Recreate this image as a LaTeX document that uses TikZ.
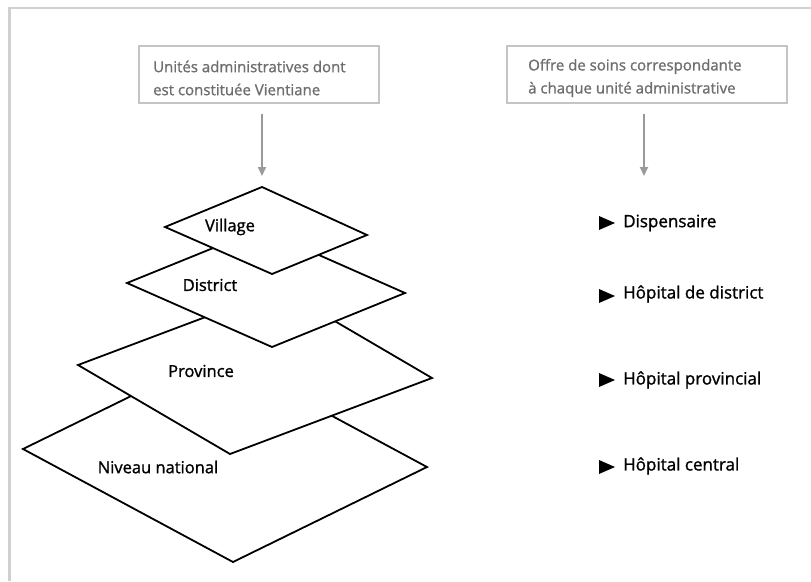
\documentclass[tikz,border=0pt]{standalone}
\usepackage{fontspec}
\setmainfont{Open Sans}
\newfontfamily\heavyfont{Open Sans}[RawFeature={embolden=1.2}]
\usetikzlibrary{calc,arrows.meta}
\definecolor{framegray}{HTML}{D0D0D0}
\definecolor{boxgray}{HTML}{C4C4C4}
\definecolor{txtgray}{HTML}{6E6E6E}
\definecolor{arrgray}{HTML}{9A9A9A}
\tikzset{
  x=1pt,y=-1pt,
  headbox/.style={draw=boxgray,line width=1.6pt,align=left,inner sep=0pt,
    minimum height=57pt},
  headtext/.style={text=txtgray,align=left,inner sep=0pt,font=\heavyfont\fontsize{15}{23}\selectfont},
  headarrow/.style={draw=arrgray,line width=1.8pt,-{Triangle[length=9pt,width=8pt]}},
  plane/.style={draw=black,fill=white,line width=1.8pt,line join=miter},
  planelabel/.style={font=\heavyfont\fontsize{16.5}{19}\selectfont,inner sep=0pt},
  carelabel/.style={font=\heavyfont\fontsize{17}{19}\selectfont,inner sep=0pt,anchor=west},
  bullet/.style={fill=black}
}
\begin{document}
\begin{tikzpicture}
\useasboundingbox (0,0) rectangle (811,581);
% frame
\draw[framegray,line width=2.5pt] (9.5,581) -- (9.5,8) -- (811,8);
% header boxes
\node[headbox,minimum width=240pt] (b1) at (259,74.5) {};
\node[headbox,minimum width=280pt] (b2) at (647,74.5) {};
\node[headtext,anchor=west] (t1) at (153,78) {Unités administratives dont\\est constituée Vientiane};
\node[headtext,anchor=west] (t2) at (528,78) {Offre de soins correspondante\\à chaque unité administrative};
\coordinate (a1) at (262,176);
\coordinate (a2) at (644,176);
\draw[headarrow] ([yshift=-10pt]b1.south -| a1) -- (a1);
\draw[headarrow] ([yshift=-10pt]b2.south -| a2) -- (a2);
% planes (bottom to top)
\draw[plane] (23,449) -- (217,354) -- (427,467) -- (233,562) -- cycle;
\draw[plane] (78,365) -- (280,289) -- (432,378) -- (230,454) -- cycle;
\draw[plane] (127,283) -- (260,229) -- (405,293) -- (272,347) -- cycle;
\draw[plane] (165,227) -- (262,187) -- (367,235) -- (272,274) -- cycle;
\node[planelabel] (lv) at (230,227) {Village};
\node[planelabel] (ld) at (210,285) {District};
\node[planelabel] (lp) at (201,371) {Province};
\node[planelabel] (ln) at (158,467) {Niveau national};
% care offer
\node[carelabel] (c1) at (623,223) {Dispensaire};
\node[carelabel] (c2) at (623,294) {Hôpital de district};
\node[carelabel] (c3) at (623,380) {Hôpital provincial};
\node[carelabel] (c4) at (623,466) {Hôpital central};
\foreach \c/\dy in {c1/0,c2/2,c3/0,c4/1}{
  \fill[bullet] ($(\c.west)+(-24,\dy-7)$) -- ++(16,7) -- ++(-16,7) -- cycle;
}
\end{tikzpicture}
\end{document}
